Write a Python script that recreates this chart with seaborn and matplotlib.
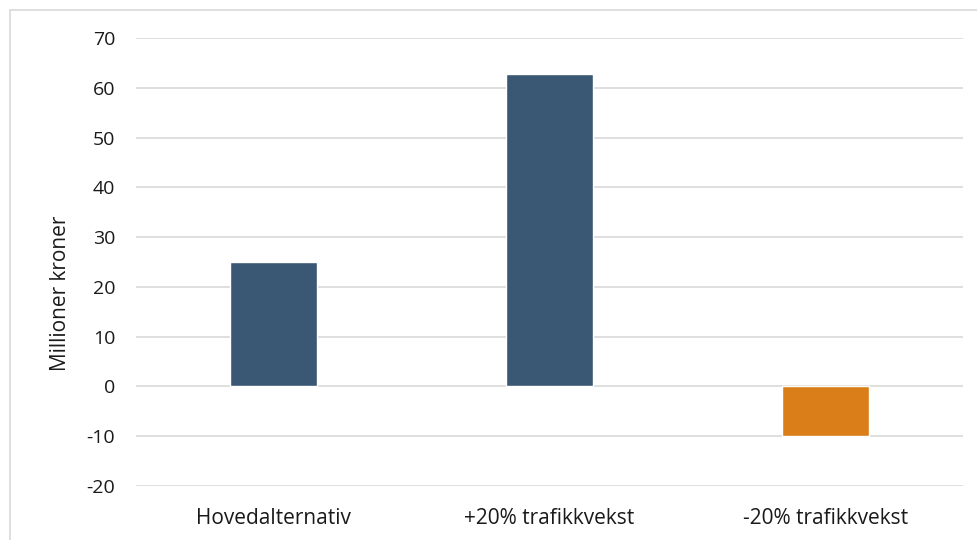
import matplotlib
matplotlib.use("Agg")
import matplotlib.pyplot as plt
import pandas as pd
import seaborn as sns
from matplotlib.patches import Rectangle

categories = ["Hovedalternativ", "+20% trafikkvekst", "-20% trafikkvekst"]
values = [25.1, 62.7, -10.0]
colors = ["#3A5774", "#3A5774", "#D97E18"]
yticks = [-20, -10, 0, 10, 20, 30, 40, 50, 60, 70]

df = pd.DataFrame({"scenario": categories, "verdi": values})

sns.set_style("white")
plt.rcParams["font.family"] = ["Open Sans", "DejaVu Sans"]

fig = plt.figure(figsize=(9.78, 5.4), dpi=100)
ax = fig.add_axes([0.139, 0.1, 0.8457, 0.8296])

sns.barplot(data=df, x="scenario", y="verdi", hue="scenario", palette=colors,
            width=0.315, legend=False, ax=ax, zorder=3, saturation=1)

ax.set_ylim(-20, 70)
ax.set_yticks(yticks)
ax.set_yticklabels([str(v) for v in yticks], fontsize=14, color="#1a1a1a")
ax.tick_params(axis="x", labelsize=15, colors="#1a1a1a", pad=16, length=0)
ax.tick_params(axis="y", length=0, pad=15)
ax.yaxis.grid(True, color="#D9D9D9", linewidth=1.2, zorder=0)
ax.set_axisbelow(True)
for s in ax.spines.values():
    s.set_visible(False)
ax.set_xlabel("")
ax.set_ylabel("Millioner kroner", fontsize=15, color="#1a1a1a")
ax.yaxis.set_label_coords(-0.078, 0.43)

fig.patches.append(Rectangle((0.0105, -0.05), 1.2, 1.031, transform=fig.transFigure,
                             fill=False, edgecolor="#D9D9D9", linewidth=1.2))

fig.savefig("out.png", dpi=100)
